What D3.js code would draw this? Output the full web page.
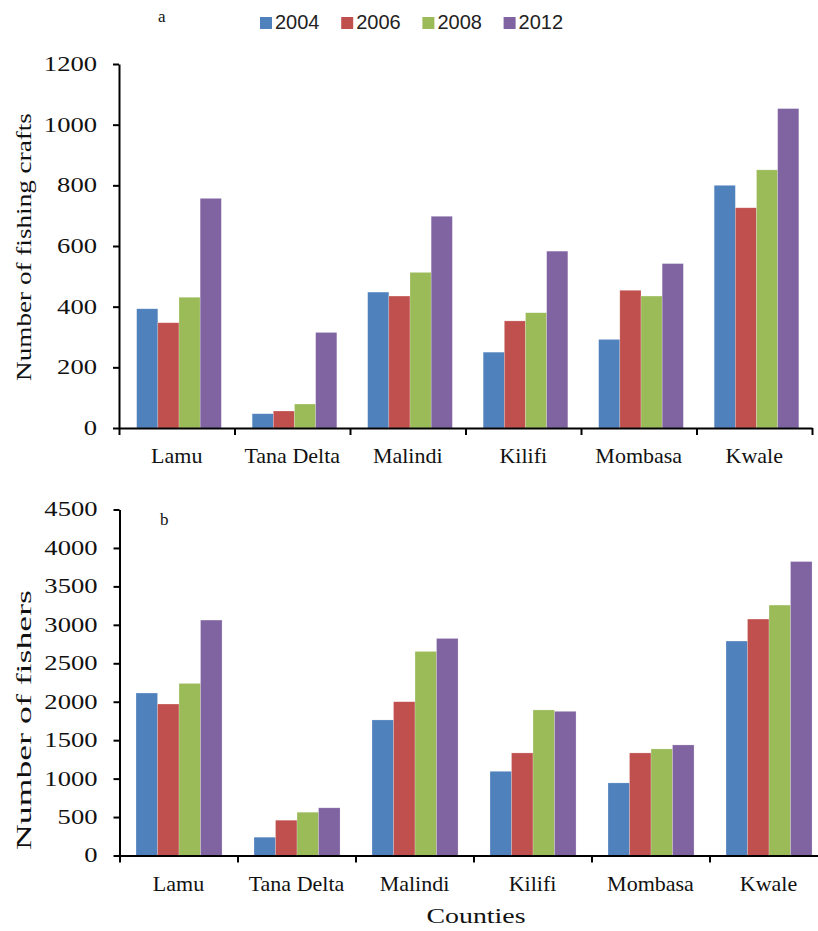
<!DOCTYPE html>
<html>
<head>
<meta charset="utf-8">
<script src="https://cdn.jsdelivr.net/npm/d3@7"></script>
<style>
  html, body { margin: 0; padding: 0; background: #fff; }
  svg { display: block; }
</style>
</head>
<body>
<div id="chart"></div>
<script>
// ---- data ----
const categories = ["Lamu", "Tana Delta", "Malindi", "Kilifi", "Mombasa", "Kwale"];
const years = ["2004", "2006", "2008", "2012"];
const colors = ["#4F81BD", "#C0504D", "#9BBB59", "#8064A2"];

const crafts2004 = [393, 47, 448, 250, 292, 800];
const crafts2006 = [347, 56, 435, 353, 454, 726];
const crafts2008 = [431, 79, 513, 380, 435, 851];
const crafts2012 = [757, 315, 698, 583, 542, 1053];

const fishers2004 = [2113, 238, 1763, 1095, 944, 2789];
const fishers2006 = [1970, 459, 2000, 1334, 1334, 3075];
const fishers2008 = [2238, 563, 2654, 1893, 1386, 3257];
const fishers2012 = [3062, 620, 2823, 1875, 1438, 3823];

const craftsTicks = [0, 200, 400, 600, 800, 1000, 1200];
const fishersTicks = [0, 500, 1000, 1500, 2000, 2500, 3000, 3500, 4000, 4500];

// ---- drawing ----
const W = 818, H = 931;
const svg = d3.select("#chart").append("svg")
  .attr("width", W).attr("height", H)
  .attr("viewBox", `0 0 ${W} ${H}`);

const serif = "'Liberation Serif', 'Times New Roman', serif";
const sans = "'Liberation Sans', Arial, sans-serif";

// stretch a text along its reading direction to a target length
function stretchTo(textSel, baseTransform, target) {
  const natural = textSel.node().getComputedTextLength();
  const s = target / natural;
  textSel.attr("transform", `${baseTransform} scale(${s},1)`);
}

function drawPanel(cfg) {
  const g = svg.append("g");
  const x = d3.scaleBand().domain(categories).range([cfg.x0, cfg.x1]).padding(0);
  const bw = x.bandwidth();
  const xi = d3.scaleBand().domain(years).range([bw * cfg.inner[0], bw * cfg.inner[1]]).padding(0);
  const y = d3.scaleLinear().domain([0, cfg.yMax]).range([cfg.yBottom, cfg.yTop]);

  // bars
  years.forEach((yr, i) => {
    g.append("g").selectAll("rect")
      .data(cfg.series[i])
      .join("rect")
      .attr("x", (d, j) => x(categories[j]) + xi(yr))
      .attr("width", xi.bandwidth())
      .attr("y", d => y(d))
      .attr("height", d => y(0) - y(d))
      .attr("fill", colors[i])
      .attr("stroke", "#ffffff")
      .attr("stroke-opacity", 0.35)
      .attr("stroke-width", 0.6);
  });

  // y axis
  const ya = g.append("g")
    .attr("transform", `translate(${cfg.x0},0)`)
    .call(d3.axisLeft(y).tickValues(cfg.ticks).tickSize(6).tickSizeOuter(0).tickFormat(d3.format("d")));
  ya.select(".domain").attr("stroke", "#000").attr("stroke-width", 2);
  ya.selectAll(".tick line").attr("stroke", "#000").attr("stroke-width", 2);
  ya.selectAll(".tick text")
    .attr("x", 0)
    .attr("transform", "translate(-22,0) scale(1.33,1)")
    .attr("font-family", serif)
    .attr("font-size", 20)
    .attr("fill", "#111");

  // x axis (boundary ticks)
  const xb = d3.scaleLinear().domain([0, categories.length]).range([cfg.x0, cfg.x1]);
  const xa = g.append("g")
    .attr("transform", `translate(0,${cfg.yBottom})`)
    .call(d3.axisBottom(xb).tickValues(d3.range(categories.length + 1)).tickSize(7).tickSizeOuter(0).tickFormat(""));
  xa.select(".domain").attr("stroke", "#000").attr("stroke-width", 2);
  xa.selectAll(".tick line").attr("stroke", "#000").attr("stroke-width", 2);

  // category labels
  g.append("g").selectAll("text")
    .data(categories)
    .join("text")
    .attr("x", d => x(d) + bw / 2)
    .attr("y", cfg.yBottom + 35)
    .attr("text-anchor", "middle")
    .attr("font-family", serif)
    .attr("font-size", 22)
    .attr("fill", "#111")
    .text(d => d);

  // y title
  const t = g.append("text")
    .attr("text-anchor", "middle")
    .attr("font-family", serif)
    .attr("font-size", 22)
    .attr("fill", "#111")
    .text(cfg.title);
  stretchTo(t, `translate(31,${cfg.titleY}) rotate(-90)`, cfg.titleLen);

  // panel letter
  g.append("text")
    .attr("x", cfg.letterX).attr("y", cfg.letterY)
    .attr("font-family", serif)
    .attr("font-size", 17)
    .attr("fill", "#111")
    .text(cfg.letter);
}

drawPanel({
  series: [crafts2004, crafts2006, crafts2008, crafts2012],
  x0: 119, x1: 812, inner: [0.153, 0.886],
  yMax: 1200, yTop: 64, yBottom: 428,
  ticks: craftsTicks,
  title: "Number of fishing crafts", titleY: 247, titleLen: 268,
  letter: "a", letterX: 158, letterY: 22
});

drawPanel({
  series: [fishers2004, fishers2006, fishers2008, fishers2012],
  x0: 119.5, x1: 827.5, inner: [0.14, 0.869],
  yMax: 4500, yTop: 509.5, yBottom: 855.5,
  ticks: fishersTicks,
  title: "Number of fishers", titleY: 720, titleLen: 260,
  letter: "b", letterX: 160, letterY: 525
});

// x title
const xt = svg.append("text")
  .attr("text-anchor", "middle")
  .attr("font-family", serif)
  .attr("font-size", 22)
  .attr("fill", "#111")
  .text("Counties");
stretchTo(xt, "translate(476,923)", 99);

// legend
const legend = svg.append("g");
years.forEach((yr, i) => {
  const lx = 260 + i * 81.2;
  legend.append("rect")
    .attr("x", lx).attr("y", 17).attr("width", 12).attr("height", 12)
    .attr("fill", colors[i]);
  legend.append("text")
    .attr("x", lx + 15).attr("y", 29)
    .attr("font-family", sans)
    .attr("font-size", 20)
    .attr("fill", "#222")
    .text(yr);
});
</script>
</body>
</html>
